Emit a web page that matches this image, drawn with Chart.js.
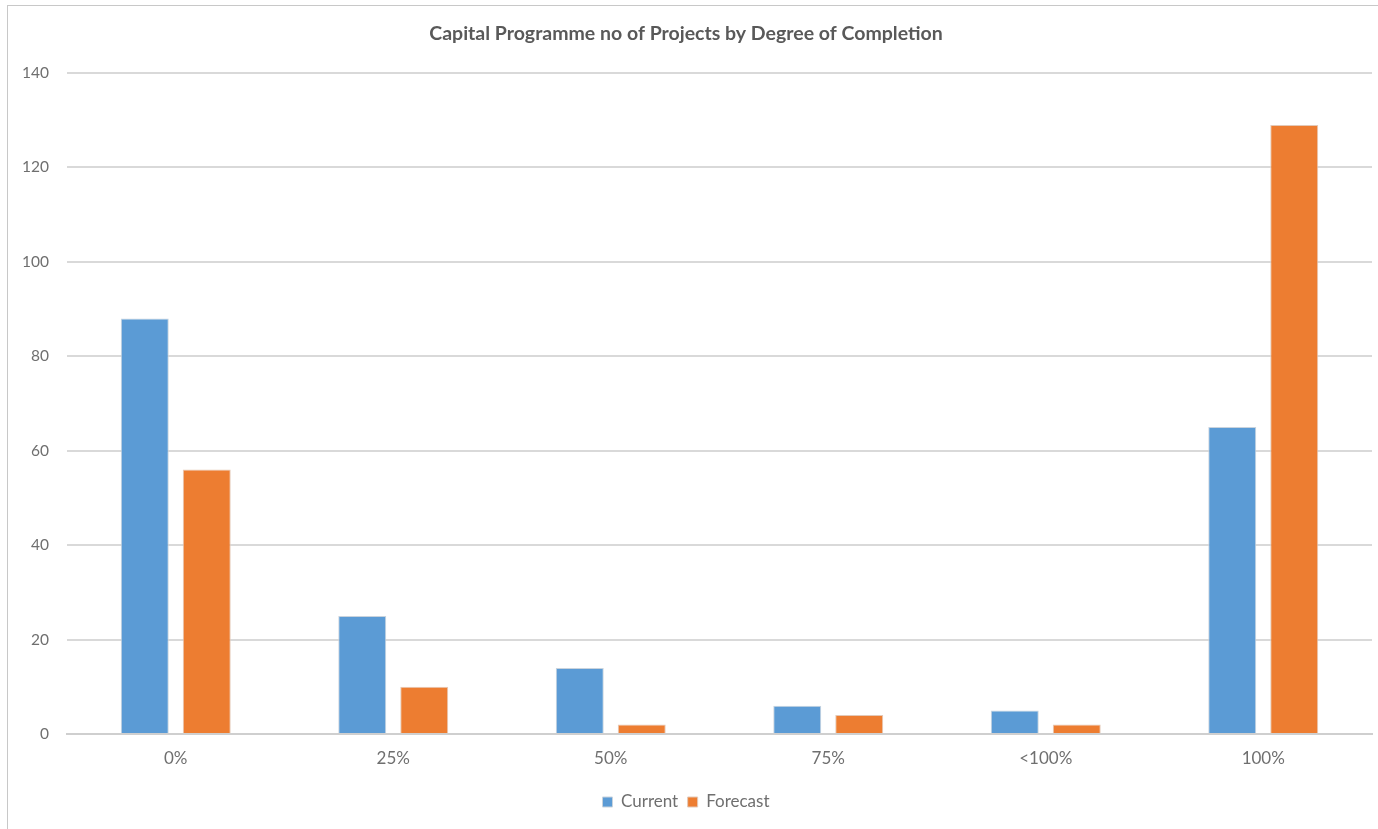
<!DOCTYPE html>
<html>
<head>
<meta charset="utf-8">
<script src="https://cdn.jsdelivr.net/npm/chart.js@4"></script>
<style>
  html, body { margin: 0; padding: 0; background: #ffffff; }
  #wrap { position: absolute; left: 0; top: 0; width: 1378px; height: 829px; }
  #frame { position: absolute; left: 7px; top: 5px; width: 1380px; height: 830px; border-left: 1px solid #c8c8c8; border-top: 1px solid #c8c8c8; pointer-events: none; }
</style>
</head>
<body>
<div id="wrap"><canvas id="c" width="1378" height="829"></canvas></div>
<div id="frame"></div>
<script>
const categories = ['0%', '25%', '50%', '75%', '<100%', '100%'];
const currentValues = [88, 25, 14, 6, 5, 65];
const forecastValues = [56, 10, 2, 4, 2, 129];
const yTicks = [0, 20, 40, 60, 80, 100, 120, 140];

const FONT = 'Lato, "Open Sans", sans-serif';
const TEXT = '#6f6f6f';

new Chart(document.getElementById('c'), {
  type: 'bar',
  data: {
    labels: categories,
    datasets: [
      { label: 'Current', data: currentValues, backgroundColor: '#5B9BD5', borderColor: '#c9d3dd', borderWidth: 1, categoryPercentage: 0.57, barPercentage: 0.774 },
      { label: 'Forecast', data: forecastValues, backgroundColor: '#ED7D31', borderColor: '#e3c9b8', borderWidth: 1, categoryPercentage: 0.57, barPercentage: 0.774 }
    ]
  },
  options: {
    responsive: false,
    animation: false,
    devicePixelRatio: 1,
    layout: { padding: { left: 0, right: 6, top: 0, bottom: 8.5 } },
    plugins: {
      title: {
        display: true,
        text: 'Capital Programme no of Projects by Degree of Completion',
        color: '#595959',
        font: { family: FONT, size: 19.5, weight: 'bold' },
        padding: { top: 22, bottom: 27.6 }
      },
      legend: {
        position: 'bottom',
        labels: {
          color: TEXT,
          font: { family: FONT, size: 17 },
          boxWidth: 10, boxHeight: 10,
          padding: 9.5
        }
      },
      tooltip: { enabled: false }
    },
    scales: {
      x: {
        grid: { display: false, drawTicks: false },
        border: { display: true, color: '#cfcfcf', width: 2 },
        ticks: { color: TEXT, font: { family: FONT, size: 17 }, padding: 14.8 }
      },
      y: {
        min: 0, max: 140,
        afterFit: (s) => { s.width = 67; },
        afterBuildTicks: (s) => { s.ticks = yTicks.map(v => ({ value: v })); },
        grid: { color: '#d9d9d9', lineWidth: 2, drawTicks: false },
        border: { display: false },
        ticks: { color: TEXT, font: { family: FONT, size: 15.5 }, padding: 18 }
      }
    }
  }
});
</script>
</body>
</html>
